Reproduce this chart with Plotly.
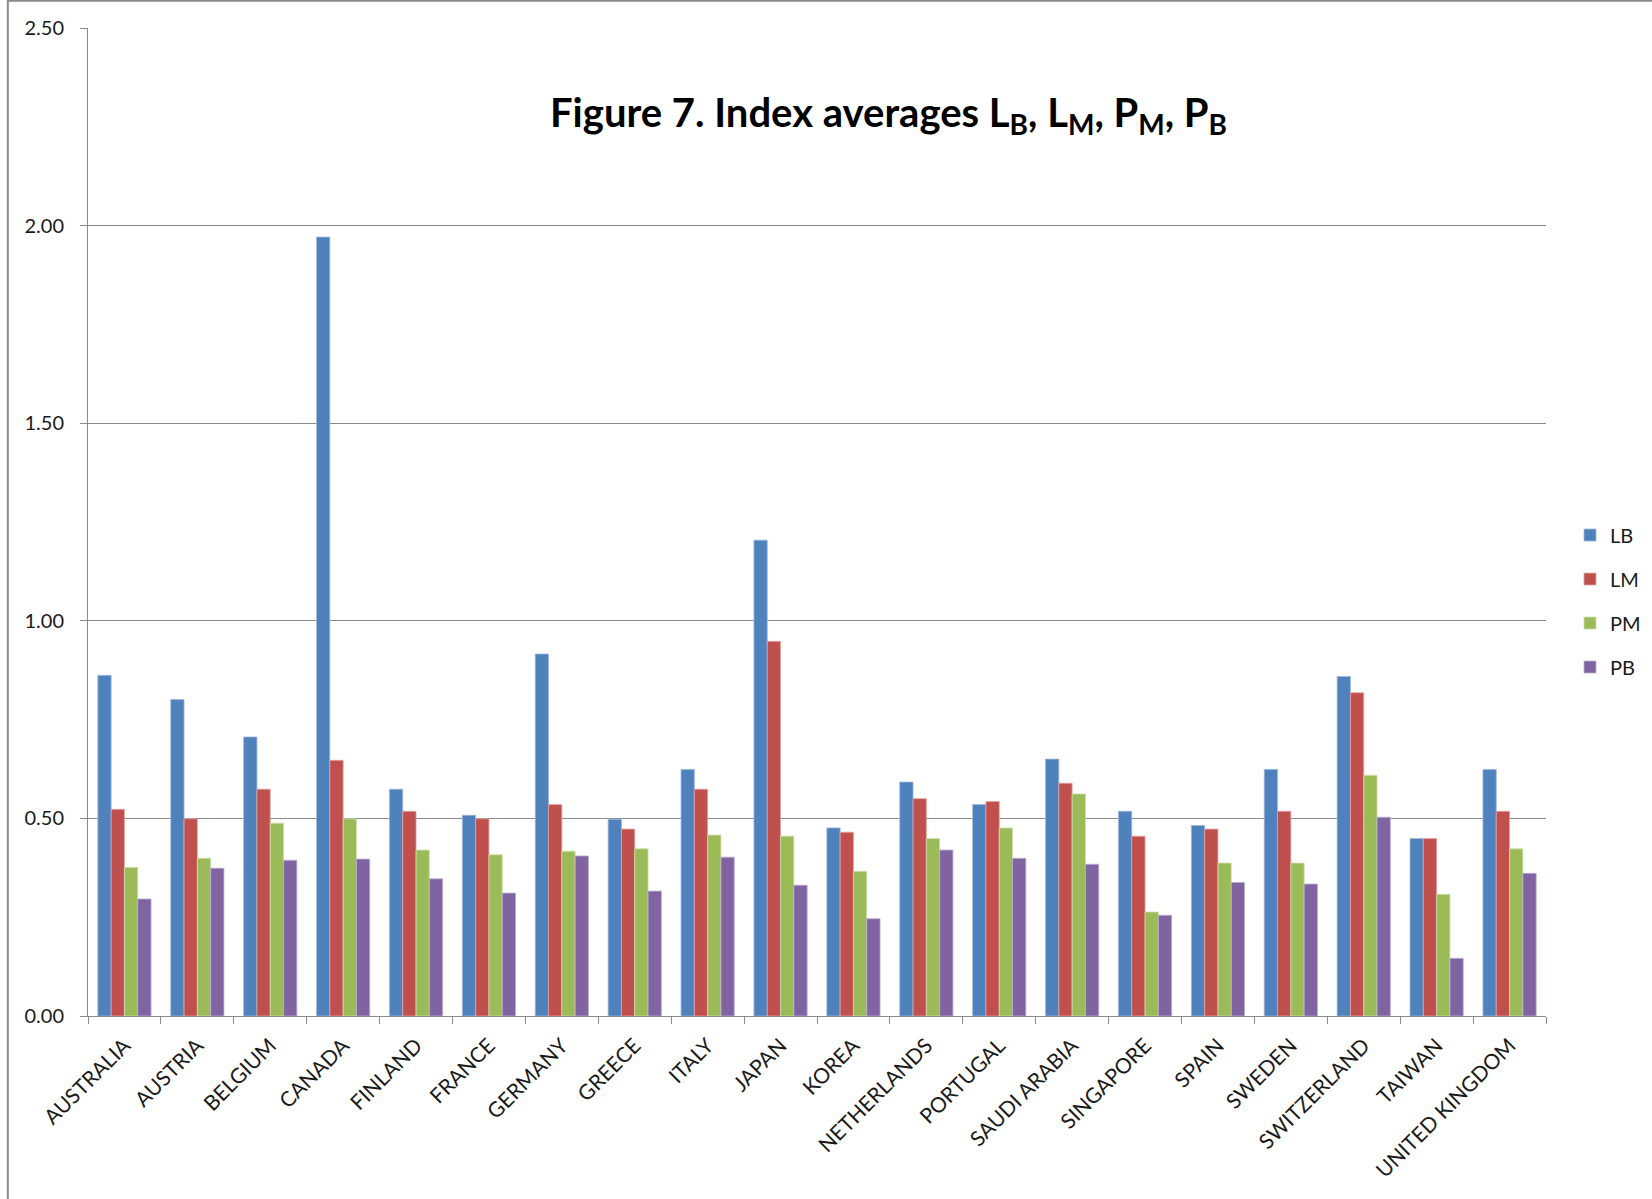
import plotly.graph_objects as go

countries = ["AUSTRALIA", "AUSTRIA", "BELGIUM", "CANADA", "FINLAND", "FRANCE",
             "GERMANY", "GREECE", "ITALY", "JAPAN", "KOREA", "NETHERLANDS",
             "PORTUGAL", "SAUDI ARABIA", "SINGAPORE", "SPAIN", "SWEDEN",
             "SWITZERLAND", "TAIWAN", "UNITED KINGDOM"]

lb = [0.862, 0.801, 0.706, 1.971, 0.574, 0.508, 0.916, 0.498, 0.624, 1.204,
      0.476, 0.592, 0.535, 0.650, 0.518, 0.482, 0.624, 0.859, 0.449, 0.624]
lm = [0.523, 0.499, 0.574, 0.647, 0.518, 0.499, 0.535, 0.473, 0.574, 0.948,
      0.465, 0.550, 0.543, 0.589, 0.455, 0.473, 0.518, 0.818, 0.449, 0.518]
pm = [0.376, 0.399, 0.488, 0.499, 0.420, 0.408, 0.417, 0.423, 0.458, 0.455,
      0.366, 0.449, 0.476, 0.562, 0.263, 0.387, 0.387, 0.609, 0.308, 0.423]
pb = [0.296, 0.374, 0.394, 0.397, 0.347, 0.311, 0.405, 0.316, 0.402, 0.331,
      0.246, 0.420, 0.399, 0.384, 0.255, 0.338, 0.334, 0.503, 0.146, 0.361]

y_ticks = [0, 0.5, 1.0, 1.5, 2.0, 2.5]

series = [
    ("LB", lb, "#4F81BD", "#9DB9DD"),
    ("LM", lm, "#C0504D", "#E3A5A3"),
    ("PM", pm, "#9BBB59", "#CFE0AE"),
    ("PB", pb, "#8064A2", "#BDAFD2"),
]

FONT = "Lato"
W, H = 1652, 1199
ML, MR, MT, MB = 88, 106, 28, 183
PW = W - ML - MR  # plot-area width in pixels

fig = go.Figure()
for name, vals, color, edge in series:
    fig.add_trace(go.Bar(
        x=countries, y=vals, name=name, legendgroup=name,
        marker=dict(color=color, line=dict(color=edge, width=0.8)),
    ))

fig.update_layout(
    width=W, height=H,
    # fixed margins: the legend sits in the right margin without resizing the plot
    margin=dict(l=ML, r=MR, t=MT, b=MB, autoexpand=False),
    paper_bgcolor="white", plot_bgcolor="white",
    barmode="group", bargap=0.27, bargroupgap=0,
    font=dict(family=FONT, size=20, color="#1a1a1a"),
    showlegend=True,
    legend=dict(
        x=(1570 - ML) / PW, xanchor="left", y=0.42, yanchor="middle",
        font=dict(family=FONT, size=20, color="#1a1a1a"),
        tracegroupgap=15, itemwidth=30, bgcolor="rgba(0,0,0,0)",
    ),
    annotations=[dict(
        text="<b>Figure 7. Index averages L<sub>B</sub>, L<sub>M</sub>, P<sub>M</sub>, P<sub>B</sub></b>",
        xref="paper", yref="paper", x=0.549, y=0.912,
        xanchor="center", yanchor="middle", showarrow=False,
        font=dict(family=FONT, size=40, color="black"),
    )],
    shapes=[dict(
        type="rect", xref="paper", yref="paper",
        x0=-0.055, x1=1.1, y0=-0.2, y1=1.0275,
        line=dict(color="#8a8a8a", width=2), fillcolor="rgba(0,0,0,0)",
        layer="below",
    )],
)

fig.update_xaxes(
    type="category", tickangle=-45,
    showline=True, linecolor="#8a8a8a", linewidth=1,
    ticks="outside", ticklen=7, tickcolor="#8a8a8a", tickson="boundaries",
    showgrid=False, ticklabelstandoff=8,
    tickfont=dict(family=FONT, size=21, color="#1a1a1a"),
)
fig.update_yaxes(
    range=[0, 2.5], tickvals=y_ticks, tickformat=".2f",
    showline=True, linecolor="#8a8a8a", linewidth=1,
    ticks="outside", ticklen=7, tickcolor="#8a8a8a",
    showgrid=True, gridcolor="#8a8a8a", gridwidth=1,
    zeroline=False, ticklabelstandoff=12,
    tickfont=dict(family=FONT, size=20, color="#1a1a1a"),
)

fig.write_html("out.html")
